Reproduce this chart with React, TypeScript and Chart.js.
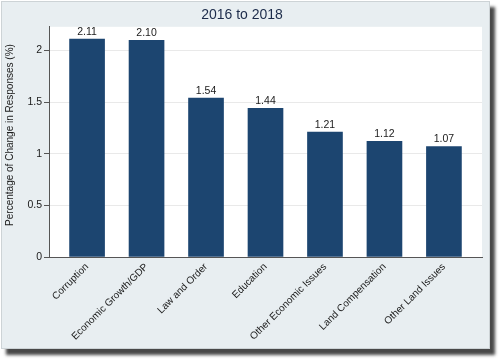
import React, { useEffect, useRef } from "react";
import { Chart, registerables } from "chart.js";

Chart.register(...registerables);

const categories = [
  "Corruption",
  "Economic Growth/GDP",
  "Law and Order",
  "Education",
  "Other Economic Issues",
  "Land Compensation",
  "Other Land Issues",
];
const values = [2.11, 2.1, 1.54, 1.44, 1.21, 1.12, 1.07];
const yTicks = [0, 0.5, 1, 1.5, 2];
const titleText = "2016 to 2018";
const yTitle = "Percentage of Change in Responses (%)";

const FONT = "Arial, 'Liberation Sans', Helvetica, sans-serif";

const plotBg = {
  id: "plotBg",
  beforeDraw(chart: any) {
    const { ctx, chartArea } = chart;
    ctx.save();
    ctx.fillStyle = "#ffffff";
    ctx.fillRect(chartArea.left, chartArea.top, chartArea.right - chartArea.left, chartArea.bottom - chartArea.top);
    ctx.restore();
  },
};

const valueLabels = {
  id: "valueLabels",
  afterDatasetsDraw(chart: any) {
    const { ctx } = chart;
    const meta = chart.getDatasetMeta(0);
    ctx.save();
    ctx.font = `10.5px ${FONT}`;
    ctx.fillStyle = "#1a1a1a";
    ctx.textAlign = "center";
    ctx.textBaseline = "bottom";
    meta.data.forEach((bar: any, i: number) => {
      ctx.fillText(values[i].toFixed(2), bar.x, bar.y - 2);
    });
    ctx.restore();
  },
};

const yTitlePlugin = {
  id: "yTitlePlugin",
  afterDraw(chart: any) {
    const { ctx } = chart;
    ctx.save();
    ctx.font = `10px ${FONT}`;
    ctx.fillStyle = "#1a1a1a";
    ctx.textAlign = "center";
    ctx.textBaseline = "middle";
    ctx.translate(8, 133);
    ctx.rotate(-Math.PI / 2);
    ctx.fillText(yTitle, 0, 0);
    ctx.restore();
  },
};

export default function App() {
  const ref = useRef<HTMLCanvasElement>(null);
  useEffect(() => {
    document.body.style.margin = "0";
    const chart = new Chart(ref.current!, {
      type: "bar",
      data: {
        datasets: [
          {
            data: values.map((v, i) => ({ x: i, y: v })),
            backgroundColor: "#1c4570",
            borderWidth: 0,
            barThickness: 35,
          },
        ],
      },
      plugins: [plotBg, valueLabels, yTitlePlugin],
      options: {
        animation: false,
        responsive: false,
        maintainAspectRatio: false,
        layout: { padding: { left: 0, right: 7, top: 0, bottom: 0 } },
        plugins: {
          legend: { display: false },
          tooltip: { enabled: false },
          title: {
            display: true,
            text: titleText,
            color: "#1c2b4a",
            font: { family: FONT, size: 14, weight: "normal" },
            padding: { top: 5, bottom: 3 },
          },
        },
        scales: {
          x: {
            type: "linear",
            offset: false,
            min: -0.64,
            max: 6.64,
            grid: { display: false, drawTicks: false, tickLength: 0 },
            border: { display: true, color: "#555555", width: 1 },
            afterBuildTicks(scale: any) {
              scale.ticks = categories.map((_, i) => ({ value: i }));
            },
            afterFit(scale: any) {
              scale.height = 91;
            },
            ticks: {
              autoSkip: false,
              minRotation: 45,
              maxRotation: 45,
              padding: 4,
              color: "#1a1a1a",
              font: { family: FONT, size: 10 },
              callback: (v: any) => categories[v] ?? "",
            },
          },
          y: {
            min: 0,
            max: 2.23,
            afterBuildTicks(scale: any) {
              scale.ticks = yTicks.map((v) => ({ value: v }));
            },
            afterFit(scale: any) {
              scale.width = 47;
            },
            grid: {
              color: "#e9e9e9",
              tickColor: "#555555",
              tickLength: 5,
              drawTicks: true,
            },
            border: { display: true, color: "#555555", width: 1 },
            ticks: {
              padding: 2,
              color: "#1a1a1a",
              font: { family: FONT, size: 10.5 },
              callback: (v: any) => String(v),
            },
          },
        },
      } as any,
    });
    return () => chart.destroy();
  }, []);

  return (
    <div
      style={{
        position: "absolute",
        left: 1,
        top: 1,
        width: 487,
        height: 346,
        background: "#e8eef1",
        border: "1px solid #cdd3d6",
        boxShadow: "5px 6px 3px rgba(40,40,40,0.85)",
      }}
    >
      <canvas ref={ref} width={487} height={346} style={{ display: "block" }} />
    </div>
  );
}
